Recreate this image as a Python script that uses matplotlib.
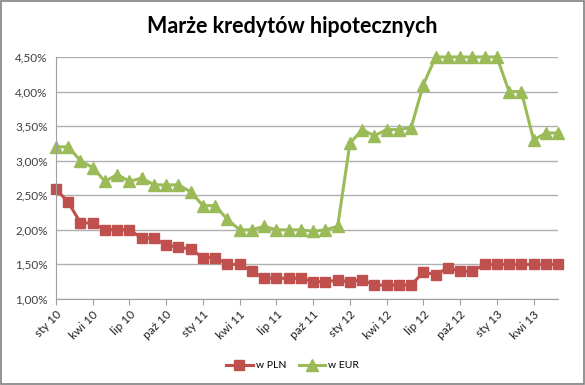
import numpy as np
import matplotlib
matplotlib.use('Agg')
import matplotlib.pyplot as plt
from matplotlib.patches import Rectangle

plt.rcParams['font.family'] = ['Lato', 'DejaVu Sans']

# monthly data, sty 10 .. cze 13
pln = [2.59, 2.40, 2.10, 2.10, 2.00, 2.00, 2.00, 1.88, 1.88, 1.78, 1.75, 1.72,
       1.60, 1.60, 1.50, 1.50, 1.40, 1.30, 1.30, 1.30, 1.30, 1.25, 1.25, 1.27,
       1.25, 1.28, 1.20, 1.20, 1.20, 1.20, 1.39, 1.35, 1.45, 1.40, 1.40, 1.50,
       1.50, 1.50, 1.50, 1.50, 1.50, 1.50]
eur = [3.20, 3.20, 3.00, 2.90, 2.70, 2.80, 2.70, 2.75, 2.65, 2.65, 2.65, 2.55,
       2.35, 2.35, 2.15, 2.00, 2.00, 2.05, 2.00, 2.00, 2.00, 1.98, 2.00, 2.05,
       3.25, 3.45, 3.36, 3.45, 3.45, 3.48, 4.10, 4.50, 4.50, 4.50, 4.50, 4.50,
       4.50, 4.00, 4.00, 3.30, 3.40, 3.40]
tick_labels = ['sty 10', 'kwi 10', 'lip 10', 'paź 10', 'sty 11', 'kwi 11', 'lip 11',
               'paź 11', 'sty 12', 'kwi 12', 'lip 12', 'paź 12', 'sty 13', 'kwi 13']
y_ticks = [1.0, 1.5, 2.0, 2.5, 3.0, 3.5, 4.0, 4.5]

x = np.arange(len(pln))

fig = plt.figure(figsize=(5.85, 3.85), dpi=100)
ax = fig.add_axes([0.0957, 0.2234, 0.954 - 0.0957, 0.852 - 0.2234])

ax.plot(x, pln, color='#C0504D', lw=2.2, marker='s', ms=7, label='w PLN', clip_on=False)
ax.plot(x, eur, color='#9BBB59', lw=2.2, marker='^', ms=8, label='w EUR', clip_on=False)

ax.set_xlim(0, len(pln) - 1)
ax.set_ylim(1.0, 4.5)
ax.set_yticks(y_ticks)
ax.set_yticklabels([('%.2f%%' % v).replace('.', ',') for v in y_ticks],
                   fontsize=8.5, color='#404040')
ax.tick_params(axis='y', length=0, pad=6)
ax.set_xticks(x[::3])
ax.set_xticklabels(tick_labels, rotation=45, ha='right', va='top',
                   rotation_mode='anchor', fontsize=8.5, color='#202020')
ax.tick_params(axis='x', length=4, color='#A0A0A0', direction='out', pad=3)

ax.grid(axis='y', color='#B0B0B0', lw=1)
ax.set_axisbelow(True)
for s in ['top', 'right']:
    ax.spines[s].set_visible(False)
for s in ['left', 'bottom']:
    ax.spines[s].set_color('#A0A0A0')

fig.text(0.5, 0.93, 'Marże kredytów hipotecznych', ha='center', va='center',
         fontsize=15.5, fontweight='bold')

fig.legend(loc='center', bbox_to_anchor=(0.5, 0.05), ncol=2, frameon=False,
           fontsize=7.5, handlelength=2.5, columnspacing=1.2, handletextpad=0.3)

fig.patches.append(Rectangle((0.002, 0.003), 0.996, 0.994, transform=fig.transFigure,
                             fill=False, ec='#808080', lw=1.2))

fig.savefig('out.png', dpi=100)
